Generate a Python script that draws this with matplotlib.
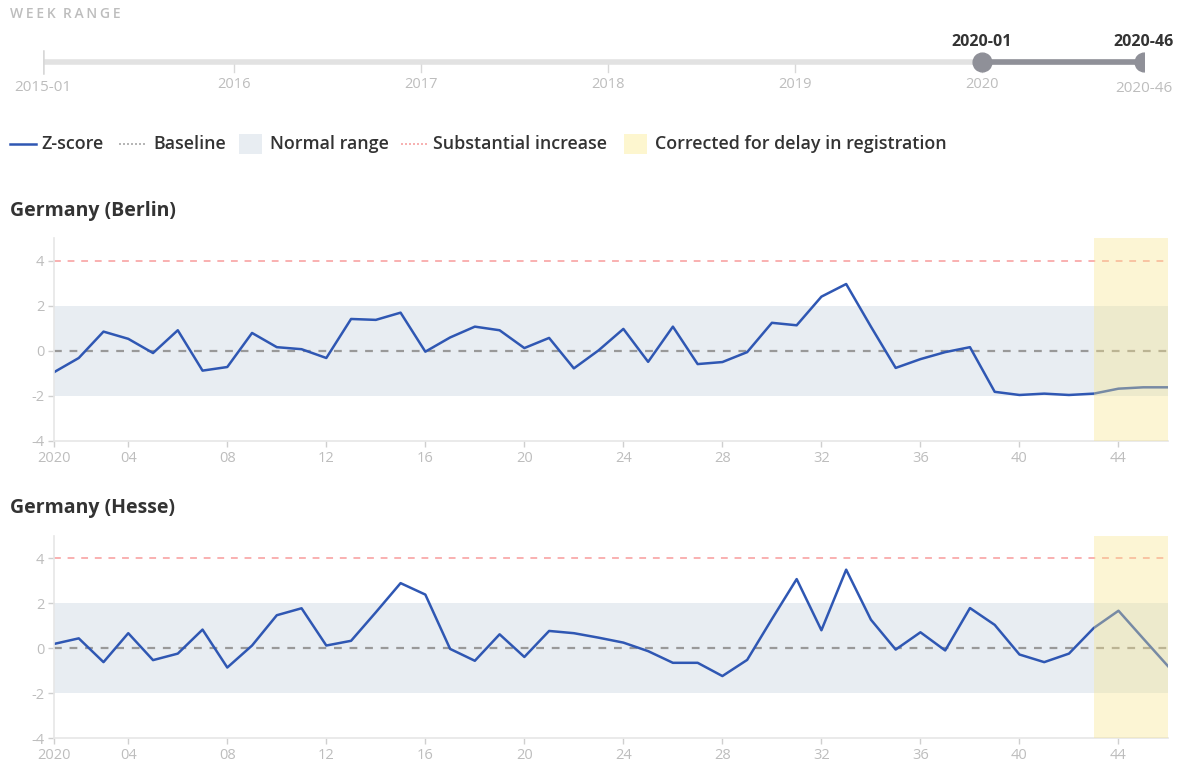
import matplotlib
matplotlib.use("Agg")
import matplotlib.pyplot as plt
import numpy as np

plt.rcParams['font.family'] = ['Open Sans', 'DejaVu Sans']

# ---------------- data ----------------
weeks = list(range(1, 47))
berlin = [-0.95, -0.32, 0.85, 0.53, -0.10, 0.91, -0.88, -0.72, 0.79, 0.16,
          0.07, -0.32, 1.41, 1.37, 1.69, -0.04, 0.59, 1.07, 0.91, 0.12,
          0.57, -0.78, 0.02, 0.97, -0.49, 1.07, -0.59, -0.50, -0.06, 1.24,
          1.13, 2.40, 2.96, 1.07, -0.76, -0.37, -0.06, 0.16, -1.82, -1.96,
          -1.90, -1.96, -1.90, -1.68, -1.62, -1.62]
hesse = [0.19, 0.44, -0.62, 0.67, -0.53, -0.24, 0.83, -0.86, 0.12, 1.47,
         1.78, 0.12, 0.33, 1.60, 2.90, 2.39, -0.03, -0.56, 0.62, -0.39,
         0.77, 0.67, 0.47, 0.25, -0.13, -0.65, -0.65, -1.24, -0.52, 1.30,
         3.08, 0.80, 3.50, 1.27, -0.06, 0.71, -0.10, 1.79, 1.04, -0.28,
         -0.62, -0.24, 0.90, 1.67, 0.43, -0.80]
regions = ["Germany (Berlin)", "Germany (Hesse)"]
series = [berlin, hesse]
xtick_weeks = [1, 4, 8, 12, 16, 20, 24, 28, 32, 36, 40, 44]
xtick_labels = ["2020", "04", "08", "12", "16", "20", "24", "28", "32", "36", "40", "44"]
yticks = [-4, -2, 0, 2, 4]
baseline = 0
normal_range = (-2, 2)
substantial = 4
corrected_from = 43  # first week corrected for delay

slider_years = ["2015-01", "2016", "2017", "2018", "2019", "2020"]
slider_year_weeks = [0, 53, 105, 157, 209, 261]   # ISO week index since 2015-01
slider_total = 306                                  # index of 2020-46
sel_start, sel_end = 261, 306
sel_labels = ["2020-01", "2020-46"]

# ---------------- styles ----------------
W, H = 1189, 765
BLUE = "#2f57b3"
BAND = "#e8edf2"
YEL = "#f8e58a"
GRAY_TXT = "#bdbdbd"
DARK = "#333333"
LEG_FS = 12.9

fig = plt.figure(figsize=(W / 100, H / 100), dpi=100)

def fx(px):
    return px / W

def fy(py):
    return 1 - py / H

# ---------------- slider ----------------
sax = fig.add_axes([fx(43), fy(102), fx(1144) - fx(43), (102 - 22) / H])
sax.set_xlim(0, slider_total)
sax.set_ylim(-1, 1)
sax.axis("off")
sax.plot([0, slider_total], [0, 0], color="#e2e2e2", lw=4, solid_capstyle="butt", zorder=1)
for i, (lab, wk) in enumerate(zip(slider_years, slider_year_weeks)):
    if i == 0:
        sax.plot([wk, wk], [0.28, -0.28], color="#d8d8d8", lw=1.8, zorder=2)
        sax.text(wk, -0.63, lab, ha="center", va="center", color=GRAY_TXT, fontsize=11)
    else:
        sax.plot([wk, wk], [0, -0.25], color="#d8d8d8", lw=1.0, zorder=0)
        sax.text(wk, -0.56, lab, ha="center", va="center", color=GRAY_TXT, fontsize=10.5)
sax.text(sel_end, -0.65, sel_labels[1], ha="center", va="center", color=GRAY_TXT, fontsize=11)
sax.plot([sel_start, sel_end], [0, 0], color="#8f9098", lw=4, solid_capstyle="butt", zorder=3)
sax.plot([sel_start, sel_end], [0, 0], "o", color="#8f9098", ms=13.5, zorder=4)
for wk, lab in zip([sel_start, sel_end], sel_labels):
    sax.text(wk, 0.5, lab, ha="center", va="center", color=DARK, fontsize=11.5, fontweight="bold")

fig.text(fx(10), fy(14), "\u2009".join("WEEK") + "  " + "\u2009".join("RANGE"),
         ha="left", va="center", color=GRAY_TXT, fontsize=10, fontweight="semibold",
         family=['DejaVu Sans'] if False else ['Open Sans', 'DejaVu Sans'])

# ---------------- legend ----------------
lax = fig.add_axes([0, 0, 1, 1], zorder=-1)
lax.set_xlim(0, W)
lax.set_ylim(H, 0)
lax.axis("off")
lax.plot([10, 36], [144, 144], color=BLUE, lw=1.8)
lax.text(41, 144, "Z-score", va="center", ha="left", fontsize=LEG_FS, fontweight="semibold", color=DARK)
lax.plot([119, 147], [144, 144], color="#a8a8a8", lw=1.2, ls=(0, (1.2, 1.2)))
lax.text(153, 144, "Baseline", va="center", ha="left", fontsize=LEG_FS, fontweight="semibold", color=DARK)
lax.add_patch(plt.Rectangle((239, 134), 23, 20, color=BAND, lw=0))
lax.text(270, 144, "Normal range", va="center", ha="left", fontsize=LEG_FS, fontweight="semibold", color=DARK)
lax.plot([401, 428], [144, 144], color="#f6a3a3", lw=1.2, ls=(0, (1.2, 1.2)))
lax.text(433, 144, "Substantial increase", va="center", ha="left", fontsize=LEG_FS, fontweight="semibold", color=DARK)
lax.add_patch(plt.Rectangle((624, 134), 23, 20, color="#fdf6cf", lw=0))
lax.text(655, 144, "Corrected for delay in registration", va="center", ha="left", fontsize=LEG_FS,
         fontweight="semibold", color=DARK)

# ---------------- panels ----------------
panel_px = [(238, 441, 211), (536, 738, 508)]
for name, vals, (top, bot, ty) in zip(regions, series, panel_px):
    ax = fig.add_axes([fx(54), fy(bot), fx(1168) - fx(54), (bot - top) / H])
    ax.set_xlim(weeks[0], weeks[-1])
    ax.set_ylim(-4, 5)
    ax.axhspan(normal_range[0], normal_range[1], color=BAND, lw=0, zorder=0)
    ax.axhline(baseline, color="#999999", lw=1.6, ls=(0, (3.5, 3.5)), zorder=1)
    ax.axhline(substantial, color="#f9b0b0", lw=1.4, ls=(0, (3.5, 3.5)), zorder=1)
    ax.plot(weeks, vals, color=BLUE, lw=1.8, zorder=2)
    ax.axvspan(corrected_from, weeks[-1], color=YEL, alpha=0.36, lw=0, zorder=3)
    for s in ["top", "right"]:
        ax.spines[s].set_visible(False)
    for s in ["left", "bottom"]:
        ax.spines[s].set_color("#e6e6e6")
        ax.spines[s].set_linewidth(1.2)
    ax.set_xticks(xtick_weeks)
    ax.set_xticklabels(xtick_labels)
    ax.set_yticks(yticks)
    ax.set_yticklabels([str(v) for v in yticks])
    ax.tick_params(axis="both", colors="#cfcfcf", labelcolor=GRAY_TXT, labelsize=10.5,
                   length=4, width=1, pad=3)
    fig.text(fx(10), fy(ty), name, ha="left", va="center", fontsize=14,
             fontweight="bold", color=DARK)

fig.savefig("out.png", dpi=100)
